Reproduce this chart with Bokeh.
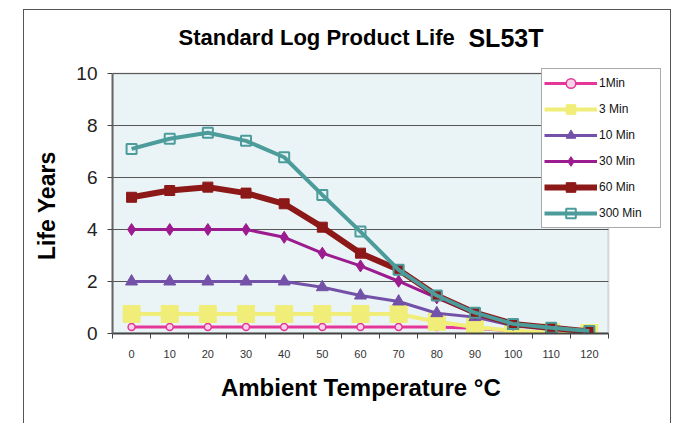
from bokeh.plotting import figure
from bokeh.models import FixedTicker, Label, Legend, LegendItem, Range1d, BoxAnnotation
from bokeh.embed import file_html
from bokeh.resources import INLINE

# ---- data ----
temps = [0, 10, 20, 30, 40, 50, 60, 70, 80, 90, 100, 110, 120]
life_1min = [0.25, 0.25, 0.25, 0.25, 0.25, 0.25, 0.25, 0.25, 0.25, 0.2, 0.1, 0.05, 0.02]
life_3min = [0.75, 0.75, 0.75, 0.75, 0.75, 0.75, 0.75, 0.75, 0.45, 0.25, 0.1, 0.05, 0.02]
life_10min = [2.0, 2.0, 2.0, 2.0, 2.0, 1.78, 1.46, 1.23, 0.78, 0.63, 0.3, 0.15, 0.05]
life_30min = [4.0, 4.0, 4.0, 4.0, 3.7, 3.09, 2.6, 2.01, 1.37, 0.76, 0.35, 0.2, 0.07]
life_60min = [5.24, 5.5, 5.63, 5.4, 4.99, 4.09, 3.09, 2.45, 1.46, 0.8, 0.37, 0.22, 0.08]
life_300min = [7.1, 7.49, 7.72, 7.41, 6.78, 5.33, 3.92, 2.45, 1.46, 0.8, 0.37, 0.22, 0.1]
series_names = ["1Min", "3 Min", "10 Min", "30 Min", "60 Min", "300 Min"]
y_ticks = [0, 2, 4, 6, 8, 10]
title_main = "Standard Log Product Life"
title_model = "SL53T"
x_title = "Ambient Temperature \u00b0C"
y_title = "Life Years"

FONT = "Liberation Sans"
X0, X1 = -5, 125     # plotted temperature span
Y0, Y1 = 0, 10       # plotted life span
NB = "\u00a0"        # padding so axis titles centre on the plot area, not the wider frame

p = figure(width=648, height=414, output_backend="svg", toolbar_location=None,
           x_range=Range1d(X0, 139.17), y_range=Range1d(Y0, 12.04))
p.title.visible = False
p.styles = {"margin-left": "23px", "margin-top": "9px",
            "border-left": "1px solid #555", "border-top": "1px solid #555",
            "border-right": "1px solid #555"}
p.min_border_left = 88
p.min_border_right = 10
p.min_border_top = 10
p.min_border_bottom = 91
p.background_fill_color = "white"
p.border_fill_color = "white"
p.outline_line_color = None

# plot area background + border
p.add_layout(BoxAnnotation(left=X0, right=X1, bottom=Y0, top=Y1, fill_color="#EAF4F6",
                           fill_alpha=1.0, line_color="#8a8a8a", line_width=2,
                           level="underlay"))

# axes
p.xaxis.bounds = (X0, X1)
p.xaxis.ticker = FixedTicker(ticks=temps, minor_ticks=[t - 5 for t in temps] + [125])
p.xaxis.major_tick_out = 0
p.xaxis.major_tick_in = 0
p.xaxis.minor_tick_out = 5
p.xaxis.minor_tick_in = 0
p.xaxis.minor_tick_line_color = "#444"
p.xaxis.axis_line_color = "#444"
p.xaxis.axis_line_width = 2
p.xaxis.major_label_text_font = FONT
p.xaxis.major_label_text_font_size = "11px"
p.xaxis.major_label_text_color = "#333"
p.xaxis.major_label_standoff = 11
p.xaxis.axis_label = x_title + NB * 8
p.xaxis.axis_label_text_font = FONT
p.xaxis.axis_label_text_font_style = "bold"
p.xaxis.axis_label_text_font_size = "24px"
p.xaxis.axis_label_text_color = "black"
p.xaxis.axis_label_standoff = 13

p.yaxis.bounds = (Y0, Y1)
p.yaxis.ticker = FixedTicker(ticks=y_ticks, minor_ticks=[])
p.yaxis.major_tick_out = 5
p.yaxis.major_tick_in = 0
p.yaxis.major_tick_line_color = "#444"
p.yaxis.axis_line_color = "#666"
p.yaxis.axis_line_width = 2
p.yaxis.major_label_text_font = FONT
p.yaxis.major_label_text_font_size = "19px"
p.yaxis.major_label_text_color = "#222"
p.yaxis.major_label_standoff = 10
p.yaxis.axis_label = y_title + NB * 9
p.yaxis.axis_label_text_font = FONT
p.yaxis.axis_label_text_font_style = "bold"
p.yaxis.axis_label_text_font_size = "23px"
p.yaxis.axis_label_text_color = "black"
p.yaxis.axis_label_standoff = 13

p.xgrid.visible = False
p.ygrid.visible = False
# horizontal gridlines limited to the plot area
p.segment(x0=[X0] * len(y_ticks), x1=[X1] * len(y_ticks), y0=y_ticks, y1=y_ticks,
          line_color="#555", line_width=1)

# series
items = []
def add(name, ys, color, lw, marker, size, fill, fill_alpha=1.0, mlw=1.0):
    r1 = p.line(temps, ys, line_color=color, line_width=lw)
    r2 = p.scatter(temps, ys, marker=marker, size=size, fill_color=fill, fill_alpha=fill_alpha,
                   line_color=color, line_width=mlw)
    items.append(LegendItem(label=name, renderers=[r1, r2]))

add(series_names[0], life_1min, "#E5369A", 3, "circle", 7, "#F7D3E8", mlw=1.5)
add(series_names[1], life_3min, "#F0EE78", 4, "square", 17, "#F0EE78")
add(series_names[2], life_10min, "#7451A8", 3, "triangle", 12, "#7451A8")
add(series_names[3], life_30min, "#9C1C8F", 3, "diamond", 12, "#9C1C8F")
add(series_names[4], life_60min, "#8C1818", 6, "square", 10, "#8C1818")
add(series_names[5], life_300min, "#4C9C9C", 4, "square", 10, "#4C9C9C", fill_alpha=0.0, mlw=2)

legend = Legend(items=items, location=(429, 105), padding=2, spacing=2,
                glyph_height=24, label_height=24, glyph_width=53, label_standoff=2,
                label_width=59, label_text_font=FONT, label_text_font_size="12px",
                label_text_color="#111", border_line_color="#555", border_line_width=1,
                background_fill_color="white", background_fill_alpha=1.0, margin=0)
p.add_layout(legend, "center")

# title (two sizes)
p.add_layout(Label(x=12.3, y=11.38, text=title_main, text_font=FONT,
                   text_font_style="bold", text_font_size="22px", text_color="black",
                   text_baseline="alphabetic", text_align="left"))
p.add_layout(Label(x=88.3, y=11.38, text=title_model, text_font=FONT,
                   text_font_style="bold", text_font_size="25px", text_color="black",
                   text_baseline="alphabetic", text_align="left"))

open("out.html", "w").write(file_html(p, INLINE))
